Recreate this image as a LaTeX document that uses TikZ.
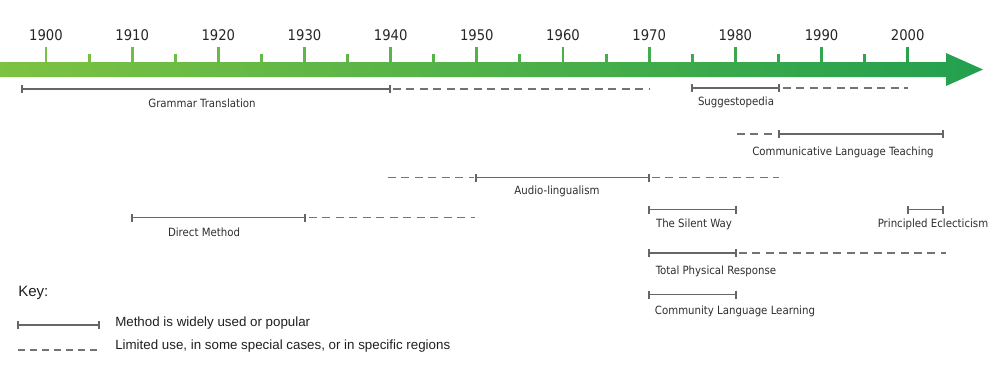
\documentclass[tikz,border=0pt]{standalone}
\usepackage{fontspec}
\setmainfont{Liberation Sans}
\newfontfamily\tah{DejaVu Sans Condensed}
\begin{document}
\begin{tikzpicture}[x=0.75pt,y=-0.75pt,
  solidline/.style={draw=black!60,line width=0.9pt},
  dashline/.style={draw=black!55,line width=0.9pt,dash pattern=on 6pt off 4.1pt},
  endtick/.style={draw=black!60,line width=0.9pt},
  lbl/.style={font=\tah\fontsize{8.5pt}{10pt}\selectfont,text=black!82,inner sep=0pt},
  yr/.style={font=\tah\fontsize{11pt}{13pt}\selectfont,text=black!85,inner sep=0pt},
  keytxt/.style={font=\fontsize{10pt}{12pt}\selectfont,text=black!88,inner sep=0pt,anchor=west}]
\useasboundingbox (0,0) rectangle (1000,379);
\definecolor{grL}{RGB}{125,194,66}
\definecolor{grR}{RGB}{34,160,79}
% arrow bar
\path[left color=grL,right color=grR] (0,62) -- (946,62) -- (946,53) -- (983,69.5) -- (946,86) -- (946,77) -- (0,77) -- cycle;
% ticks
\foreach \yy in {1900,1910,...,2000}{
  \pgfmathsetmacro\xx{46+(\yy-1900)*8.617}
  \pgfmathsetmacro\pc{100-\xx/983*100}
  \draw[line width=2.2pt,color=grL!\pc!grR] (\xx,46.5) -- (\xx,62.5);
  \node[yr] (y\yy) at (\xx,35) {\yy};
}
\foreach \yy in {1905,1915,...,1995}{
  \pgfmathsetmacro\xx{46+(\yy-1900)*8.617}
  \pgfmathsetmacro\pc{100-\xx/983*100}
  \draw[line width=2.2pt,color=grL!\pc!grR] (\xx,54) -- (\xx,62.5);
}
\newcommand\seg[4]{% name, x1, x2, y
  \coordinate (#1a) at (#2,#4); \coordinate (#1b) at (#3,#4);}
\newcommand\tk[1]{\draw[endtick] (#1) ++(0,-4) -- ++(0,8);}
% Grammar Translation
\seg{gt}{22}{390}{89}
\coordinate (gtc) at (649,89);
\draw[solidline] (gta) -- (gtb);
\tk{gta}\tk{gtb}
\draw[dashline] ([xshift=2.2pt]gtb) -- (gtc);
\node[lbl] (gtl) at (202,103) {Grammar Translation};
% Suggestopedia
\seg{sg}{692}{779}{88}
\coordinate (sgc) at (908,88);
\draw[solidline] (sga) -- (sgb);
\tk{sga}\tk{sgb}
\draw[dashline] ([xshift=3pt]sgb) -- (sgc);
\node[lbl] (sgl) at (736,102) {Suggestopedia};
% CLT
\seg{cl}{779}{943}{134}
\coordinate (clc) at (737,134);
\draw[dashline] (clc) -- ([xshift=-1.5pt]cla);
\draw[solidline] (cla) -- (clb);
\tk{cla}\tk{clb}
\node[lbl] (cll) at (843,152) {Communicative Language Teaching};
% Audio-lingualism
\seg{al}{476}{649}{177.5}
\coordinate (alc) at (388,177.5);
\coordinate (ald) at (779,177.5);
\draw[dashline] (alc) -- ([xshift=-1.5pt]ala);
\draw[solidline] (ala) -- (alb);
\tk{ala}\tk{alb}
\draw[dashline] ([xshift=2.2pt]alb) -- (ald);
\node[lbl] (all) at (557,191) {Audio-lingualism};
% Direct Method
\seg{dm}{132}{305}{217.5}
\coordinate (dmc) at (475,217.5);
\draw[solidline] (dma) -- (dmb);
\tk{dma}\tk{dmb}
\draw[dashline] ([xshift=3pt]dmb) -- (dmc);
\node[lbl] (dml) at (204,232.5) {Direct Method};
% Silent Way
\seg{sw}{649}{736}{209.5}
\draw[solidline] (swa) -- (swb);
\tk{swa}\tk{swb}
\node[lbl] (swl) at (694,224.5) {The Silent Way};
% Principled Eclecticism
\seg{pe}{908}{943}{209.5}
\draw[solidline] (pea) -- (peb);
\tk{pea}\tk{peb}
\node[lbl] (pel) at (933,224.5) {Principled Eclecticism};
% TPR
\seg{tp}{649}{736}{253}
\coordinate (tpc) at (946,253);
\draw[solidline] (tpa) -- (tpb);
\tk{tpa}\tk{tpb}
\draw[dashline] ([xshift=2.2pt]tpb) -- (tpc);
\node[lbl] (tpl) at (716,271) {Total Physical Response};
% CLL
\seg{ll}{649}{736}{294.5}
\draw[solidline] (lla) -- (llb);
\tk{lla}\tk{llb}
\node[lbl] (lll) at (735,311) {Community Language Learning};
% Key
\node[keytxt,font=\fontsize{11.3pt}{13pt}\selectfont] (key) at (18,292.5) {Key:};
\seg{ks}{18}{99}{325}
\draw[solidline] (ksa) -- (ksb);
\tk{ksa}\tk{ksb}
\node[keytxt] (kst) at (115,323) {Method is widely used or popular};
\seg{kd}{18}{99}{350}
\draw[draw=black!55,line width=0.9pt,dash pattern=on 5.2pt off 3.8pt] (kda) -- (kdb);
\node[keytxt] (kdt) at (115,346) {Limited use, in some special cases, or in specific regions};
\end{tikzpicture}
\end{document}
